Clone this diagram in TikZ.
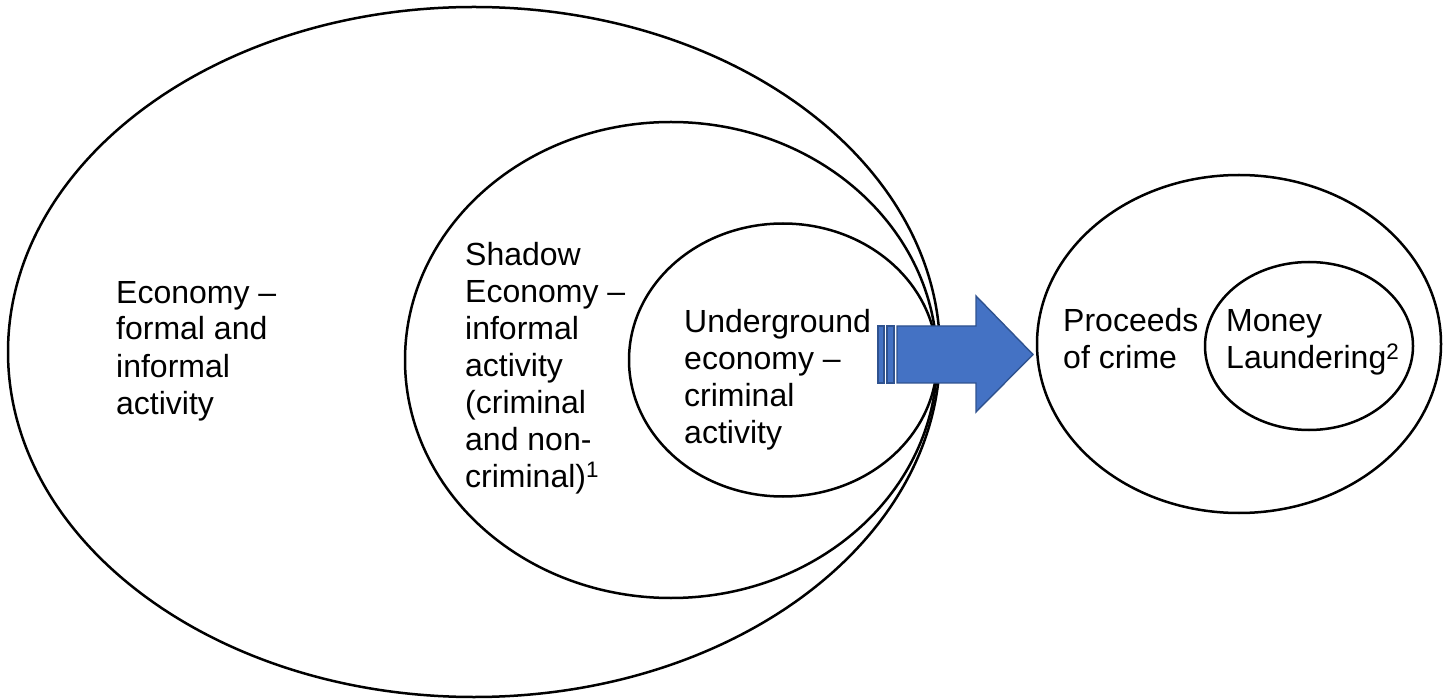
\documentclass[tikz,border=0pt]{standalone}
\usepackage{fontspec}
\setmainfont{Liberation Sans}
\usetikzlibrary{shapes.geometric}
\definecolor{arrowfill}{HTML}{4472C4}
\definecolor{arrowline}{HTML}{2F528F}
\tikzset{
  ring/.style={draw=black, line width=2.5pt, ellipse, inner sep=0pt},
  label/.style={anchor=base west, align=left, inner sep=0pt, font=\fontsize{32}{37}\selectfont},
  arrowpart/.style={fill=arrowfill, draw=arrowline, line width=1.4pt, line join=miter}
}
\begin{document}
\begin{tikzpicture}[x=1pt,y=-1pt]
\useasboundingbox (0,0) rectangle (1443,700);
% nested ellipses
\node[ring, minimum width=932pt, minimum height=690pt] (economy) at (474,352) {};
\node[ring, minimum width=532pt, minimum height=476pt] (shadow) at (671,360) {};
\node[ring, minimum width=308pt, minimum height=273pt] (underground) at (783,360) {};
\node[ring, minimum width=404pt, minimum height=338pt] (proceeds) at (1239,344) {};
\node[ring, minimum width=208pt, minimum height=168pt] (laundering) at (1309,346) {};
% labels (anchored at the baseline of the last line)
\node[label] (tEconomy) at (116,414) {Economy --\\formal and\\informal\\activity};
\node[label] (tShadow) at (465,487) {Shadow\\Economy --\\informal\\activity\\(criminal\\and non-\\criminal)\textsuperscript{1}};
\node[label] (tUnder) at (684,443) {Underground\\economy --\\criminal\\activity};
\node[label] (tProceeds) at (1063,369) {Proceeds\\of crime};
\node[label] (tMoney) at (1226,369) {Money\\Laundering\textsuperscript{2}};
% block arrow
\draw[arrowpart] (878,326) rectangle (884,383);
\draw[arrowpart] (887,326) rectangle (894,383);
\draw[arrowpart] (897,326) -- (976,326) -- (976,296) -- (1033,354.5) -- (976,412) -- (976,383) -- (897,383) -- cycle;
\end{tikzpicture}
\end{document}
